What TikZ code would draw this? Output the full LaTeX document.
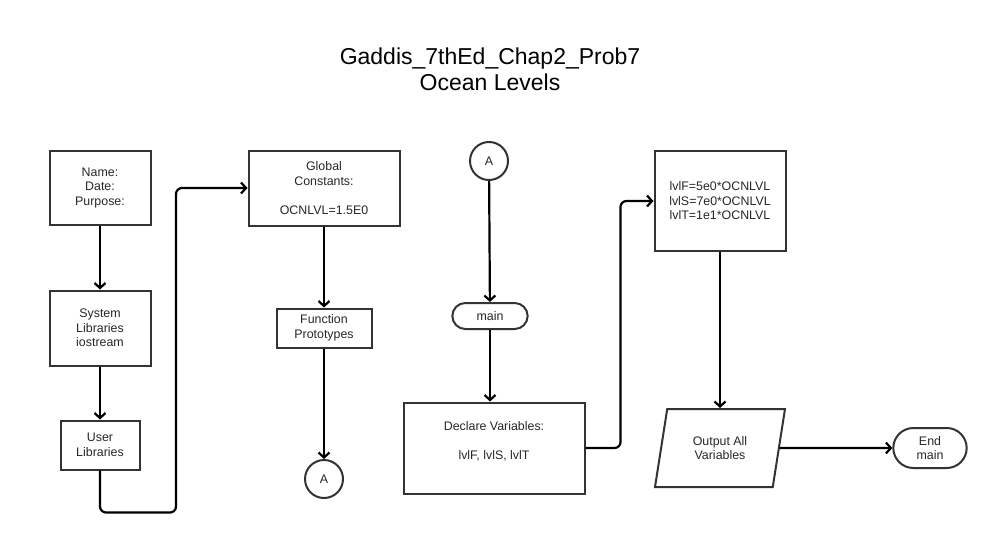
\documentclass[tikz,border=0pt]{standalone}
\usepackage{fontspec}
\setmainfont{Liberation Sans}
\usetikzlibrary{positioning,arrows.meta,shapes.geometric,shapes.misc}

\begin{document}
\begin{tikzpicture}[
  x=1pt, y=-1pt,
  font=\fontsize{12.4}{14.5}\selectfont,
  box/.style={draw=black!80, line width=2pt, align=center, text=black!85},
  term/.style={box, rounded rectangle, minimum width=82pt, minimum height=26pt},
  conn/.style={box, circle, minimum size=38pt, inner sep=0pt},
  io/.style={box, trapezium, trapezium left angle=68, trapezium right angle=112,
             trapezium stretches body, minimum width=130pt, minimum height=78pt},
  arr/.style={-{Straight Barb[length=5pt,width=11pt]}, line width=2.2pt}
]
\useasboundingbox (0,0) rectangle (996,535);
\node[align=center, font=\fontsize{23}{26}\selectfont] (title) at (490,69) {Gaddis\_7thEd\_Chap2\_Prob7\\Ocean Levels};
\node[box, minimum width=101pt, minimum height=74pt] (hdr) at (100,188) {Name:\\Date:\\Purpose:};
\node[box, minimum width=101pt, minimum height=75pt] (syslib) at (100,328) {System\\Libraries\\iostream};
\node[box, minimum width=79pt, minimum height=49pt] (usrlib) at (100,445) {User\\Libraries};
\node[box, minimum width=151pt, minimum height=75pt] (glob) at (324,188) {Global\\Constants:\\\mbox{}\\OCNLVL=1.5E0};
\node[box, minimum width=95pt, minimum height=39pt] (proto) at (324,328) {Function\\Prototypes};
\node[conn] (offA) at (324,479) {A};
\node[conn] (onA) at (489,161) {A};
\node[term] (main) at (490,316) {main};
\node[box, minimum width=181pt, minimum height=91pt] (decl) at (494,448) {Declare Variables:\\\mbox{}\\lvlF, lvlS, lvlT\\\mbox{}};
\node[box, minimum width=131pt, minimum height=100pt] (calc) at (720,201) {lvlF=5e0*OCNLVL\\lvlS=7e0*OCNLVL\\lvlT=1e1*OCNLVL};
\node[io] (out) at (720,448) {Output All\\Variables};
\node[term, minimum width=80pt, minimum height=40pt] (endm) at (930,448) {End\\main};
\draw[arr] (hdr) -- (syslib);
\draw[arr] (syslib) -- (usrlib);
\draw[arr, rounded corners=6pt] (usrlib.south) -- ++(0,42) -- ++(76,0) |- (glob.west);
\draw[arr] (glob) -- (proto);
\draw[arr] (proto) -- (offA);
\draw[arr] (onA) -- (main);
\draw[arr] (main.south) -- (main.south |- decl.north);
\draw[arr, rounded corners=6pt] (decl.east) -- ++(35,0) |- (calc.west);
\draw[arr] (calc) -- (out);
\draw[arr] (out.east) -- (endm.west);
\end{tikzpicture}
\end{document}
